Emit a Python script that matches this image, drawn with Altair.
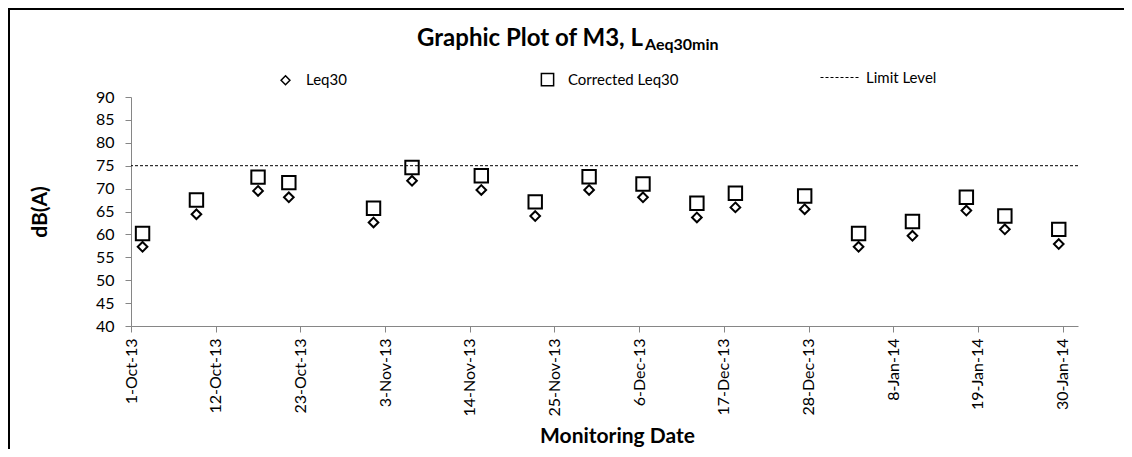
import altair as alt
import pandas as pd

# ---- data ----
dates = ["2013-10-02", "2013-10-09", "2013-10-17", "2013-10-21", "2013-11-01",
         "2013-11-06", "2013-11-15", "2013-11-22", "2013-11-29", "2013-12-06",
         "2013-12-13", "2013-12-18", "2013-12-27", "2014-01-03", "2014-01-10",
         "2014-01-17", "2014-01-22", "2014-01-29"]
leq30 = [57.3, 64.4, 69.5, 68.1, 62.6, 71.7, 69.7, 64.0, 69.7, 68.1,
         63.7, 65.9, 65.5, 57.3, 59.7, 65.2, 61.1, 57.9]
corrected_leq30 = [60.2, 67.5, 72.5, 71.3, 65.7, 74.6, 72.8, 67.1, 72.6, 71.0,
                   66.8, 69.0, 68.4, 60.2, 62.8, 68.1, 64.0, 61.1]
limit_level = 75
series_names = ["Leq30", "Corrected Leq30"]
limit_name = "Limit Level"
tick_dates = ["2013-10-01", "2013-10-12", "2013-10-23", "2013-11-03", "2013-11-14",
              "2013-11-25", "2013-12-06", "2013-12-17", "2013-12-28", "2014-01-08",
              "2014-01-19", "2014-01-30"]
x_domain = ["2013-10-01", "2014-02-01"]
y_ticks = [40, 45, 50, 55, 60, 65, 70, 75, 80, 85, 90]

FONT = "Lato"
TXT = "#000000"
AX = "#868686"
DIAMOND = "M0,-0.72L0.72,0L0,0.72L-0.72,0Z"

def ms(s):
    return int(pd.Timestamp(s, tz="UTC").value // 10**6)

df = pd.DataFrame({"date": dates, "Leq30": leq30, "Corrected Leq30": corrected_leq30})
lim_df = pd.DataFrame({"value": [limit_level], "name": [limit_name]})
one = pd.DataFrame({"a": [0]})

W, H = 947, 229

x_scale = alt.Scale(type="utc", domain=[ms(d) for d in x_domain], nice=False)
y_scale = alt.Scale(domain=[40, 90], nice=False, zero=False)

x_axis = alt.Axis(values=[ms(d) for d in tick_dates],
                  labelExpr="utcFormat(datum.value, '%-d-%b-%y')",
                  labelAngle=270, labelAlign="right", labelBaseline="middle",
                  labelPadding=6, tickSize=6, grid=False, labelOverlap=False,
                  title="Monitoring Date", titleX=486, titleY=110,
                  titleAlign="center", titleBaseline="middle", titleAngle=0)
y_axis = alt.Axis(values=y_ticks, tickSize=6, labelPadding=11, grid=False,
                  labelOverlap=False, labelFlush=False,
                  title="dB(A)", titleX=-91, titleY=114.5, titleAngle=270,
                  titleAlign="center", titleBaseline="middle")

series_legend = alt.Legend(title=None, orient="none", legendX=147, legendY=-25,
                           direction="horizontal", gridAlign="each",
                           columnPadding=191, symbolSize=150,
                           symbolStrokeWidth=1.5, symbolFillColor="white",
                           labelFont=FONT, labelFontSize=15, labelColor=TXT,
                           labelOffset=13, padding=0)

points = alt.Chart(df).transform_fold(
    series_names, as_=["series", "value"]
).transform_calculate(
    t="time(datum.date) + 43200000"
).mark_point(filled=False, fill="white", strokeWidth=2, opacity=1, size=180).encode(
    x=alt.X("t:T", scale=x_scale, axis=x_axis),
    y=alt.Y("value:Q", scale=y_scale, axis=y_axis),
    color=alt.Color("series:N",
                    scale=alt.Scale(domain=series_names, range=["black", "black"]),
                    legend=series_legend),
    shape=alt.Shape("series:N",
                    scale=alt.Scale(domain=series_names, range=[DIAMOND, "square"]),
                    legend=series_legend),
)

limit = alt.Chart(lim_df).mark_rule(color="black", strokeWidth=1).encode(
    y=alt.Y("value:Q", scale=y_scale, axis=y_axis),
    strokeDash=alt.StrokeDash("name:N",
                              scale=alt.Scale(domain=[limit_name], range=[[3, 2]]),
                              legend=alt.Legend(title=None, orient="none", legendX=689, legendY=-40,
                                                symbolSize=1600, symbolStrokeWidth=1,
                                                symbolStrokeColor="black",
                                                labelFont=FONT, labelFontSize=15, labelColor=TXT,
                                                labelOffset=5, padding=0)),
)

title_main = alt.Chart(one).mark_text(
    font=FONT, fontSize=24, fontWeight="bold", color=TXT, align="right", baseline="alphabetic"
).encode(x=alt.value(512), y=alt.value(-51), text=alt.value("Graphic Plot of M3, L"))
title_sub = alt.Chart(one).mark_text(
    font=FONT, fontSize=16, fontWeight="bold", color=TXT, align="left", baseline="alphabetic"
).encode(x=alt.value(514), y=alt.value(-47), text=alt.value("Aeq30min"))

border_top = alt.Chart(one).mark_rule(color="black", strokeWidth=2).encode(
    x=alt.value(-123), x2=alt.value(1000), y=alt.value(-88))
border_left = alt.Chart(one).mark_rule(color="black", strokeWidth=2).encode(
    x=alt.value(-122), y=alt.value(-89), y2=alt.value(360))

chart = alt.layer(points, limit, title_main, title_sub, border_top, border_left).properties(
    width=W, height=H,
    autosize=alt.AutoSizeParams(type="none"),
    padding={"left": 123, "top": 89, "right": 46, "bottom": 123},
).configure_view(stroke=None).configure_axis(
    labelFont=FONT, labelFontSize=16, labelColor=TXT,
    titleFont=FONT, titleFontSize=21, titleFontWeight="bold", titleColor=TXT,
    domainColor=AX, tickColor=AX, domainWidth=1, tickWidth=1,
)

chart.save("out.html", embed_options={"renderer": "svg", "actions": False})
